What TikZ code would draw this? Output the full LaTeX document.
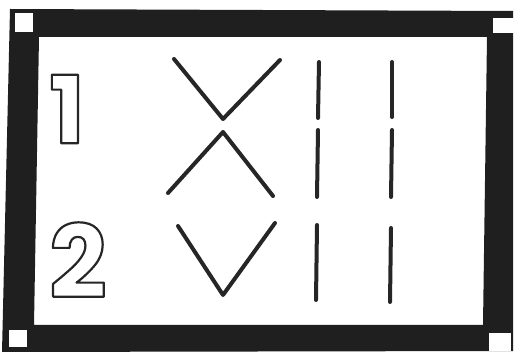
\documentclass[tikz,border=0pt]{standalone}
\usepackage{fontspec}
\newfontfamily\digitfont{Poppins}[UprightFont=* Bold]
\newcommand{\outlined}[1]{\special{pdf:literal direct 1 Tr 2.2 w 1 j}#1\special{pdf:literal direct 0 Tr}}
\tikzset{
  stroke/.style={line width=4pt, line cap=round, line join=round, black!85},
  digit/.style={inner sep=0pt, text=black!85, font=\digitfont},
  notch/.style={fill=white}
}
\begin{document}
\begin{tikzpicture}[x=1pt,y=-1pt]
\useasboundingbox (0,0) rectangle (514,355);
\fill[white] (0,0) rectangle (514,355);
% frame
\fill[black!88, even odd rule]
  (10,9) -- (513,11) -- (513,351) -- (2,352) -- cycle
  (39,37) -- (487,37) -- (483,325) -- (34,325) -- cycle;
% corner notches
\fill[notch] (15,13) rectangle (33,32);
\fill[notch] (493,18) rectangle (514,33);
\fill[notch] (9,330) rectangle (27,347);
\fill[notch] (489,333) rectangle (511,351);
% digits
\node[digit, font=\digitfont\fontsize{94}{94}\selectfont] (one) at (67,109) {\outlined{1}};
\node[digit, font=\digitfont\fontsize{101}{101}\selectfont] (two) at (78,260) {\outlined{2}};
% symbols
\draw[stroke] (174,59) -- (223,119) -- (280,60);
\draw[stroke] (168,193) -- (223,132) -- (273,196);
\draw[stroke] (178,226) -- (223,295) -- (275,223);
% vertical strokes
\draw[stroke] (319,62) -- (318,118);
\draw[stroke] (318,130) -- (317,197);
\draw[stroke] (317,225) -- (316,300);
\draw[stroke] (392,62) -- (392,117);
\draw[stroke] (392,130) -- (391,197);
\draw[stroke] (391,228) -- (390,302);
\end{tikzpicture}
\end{document}
